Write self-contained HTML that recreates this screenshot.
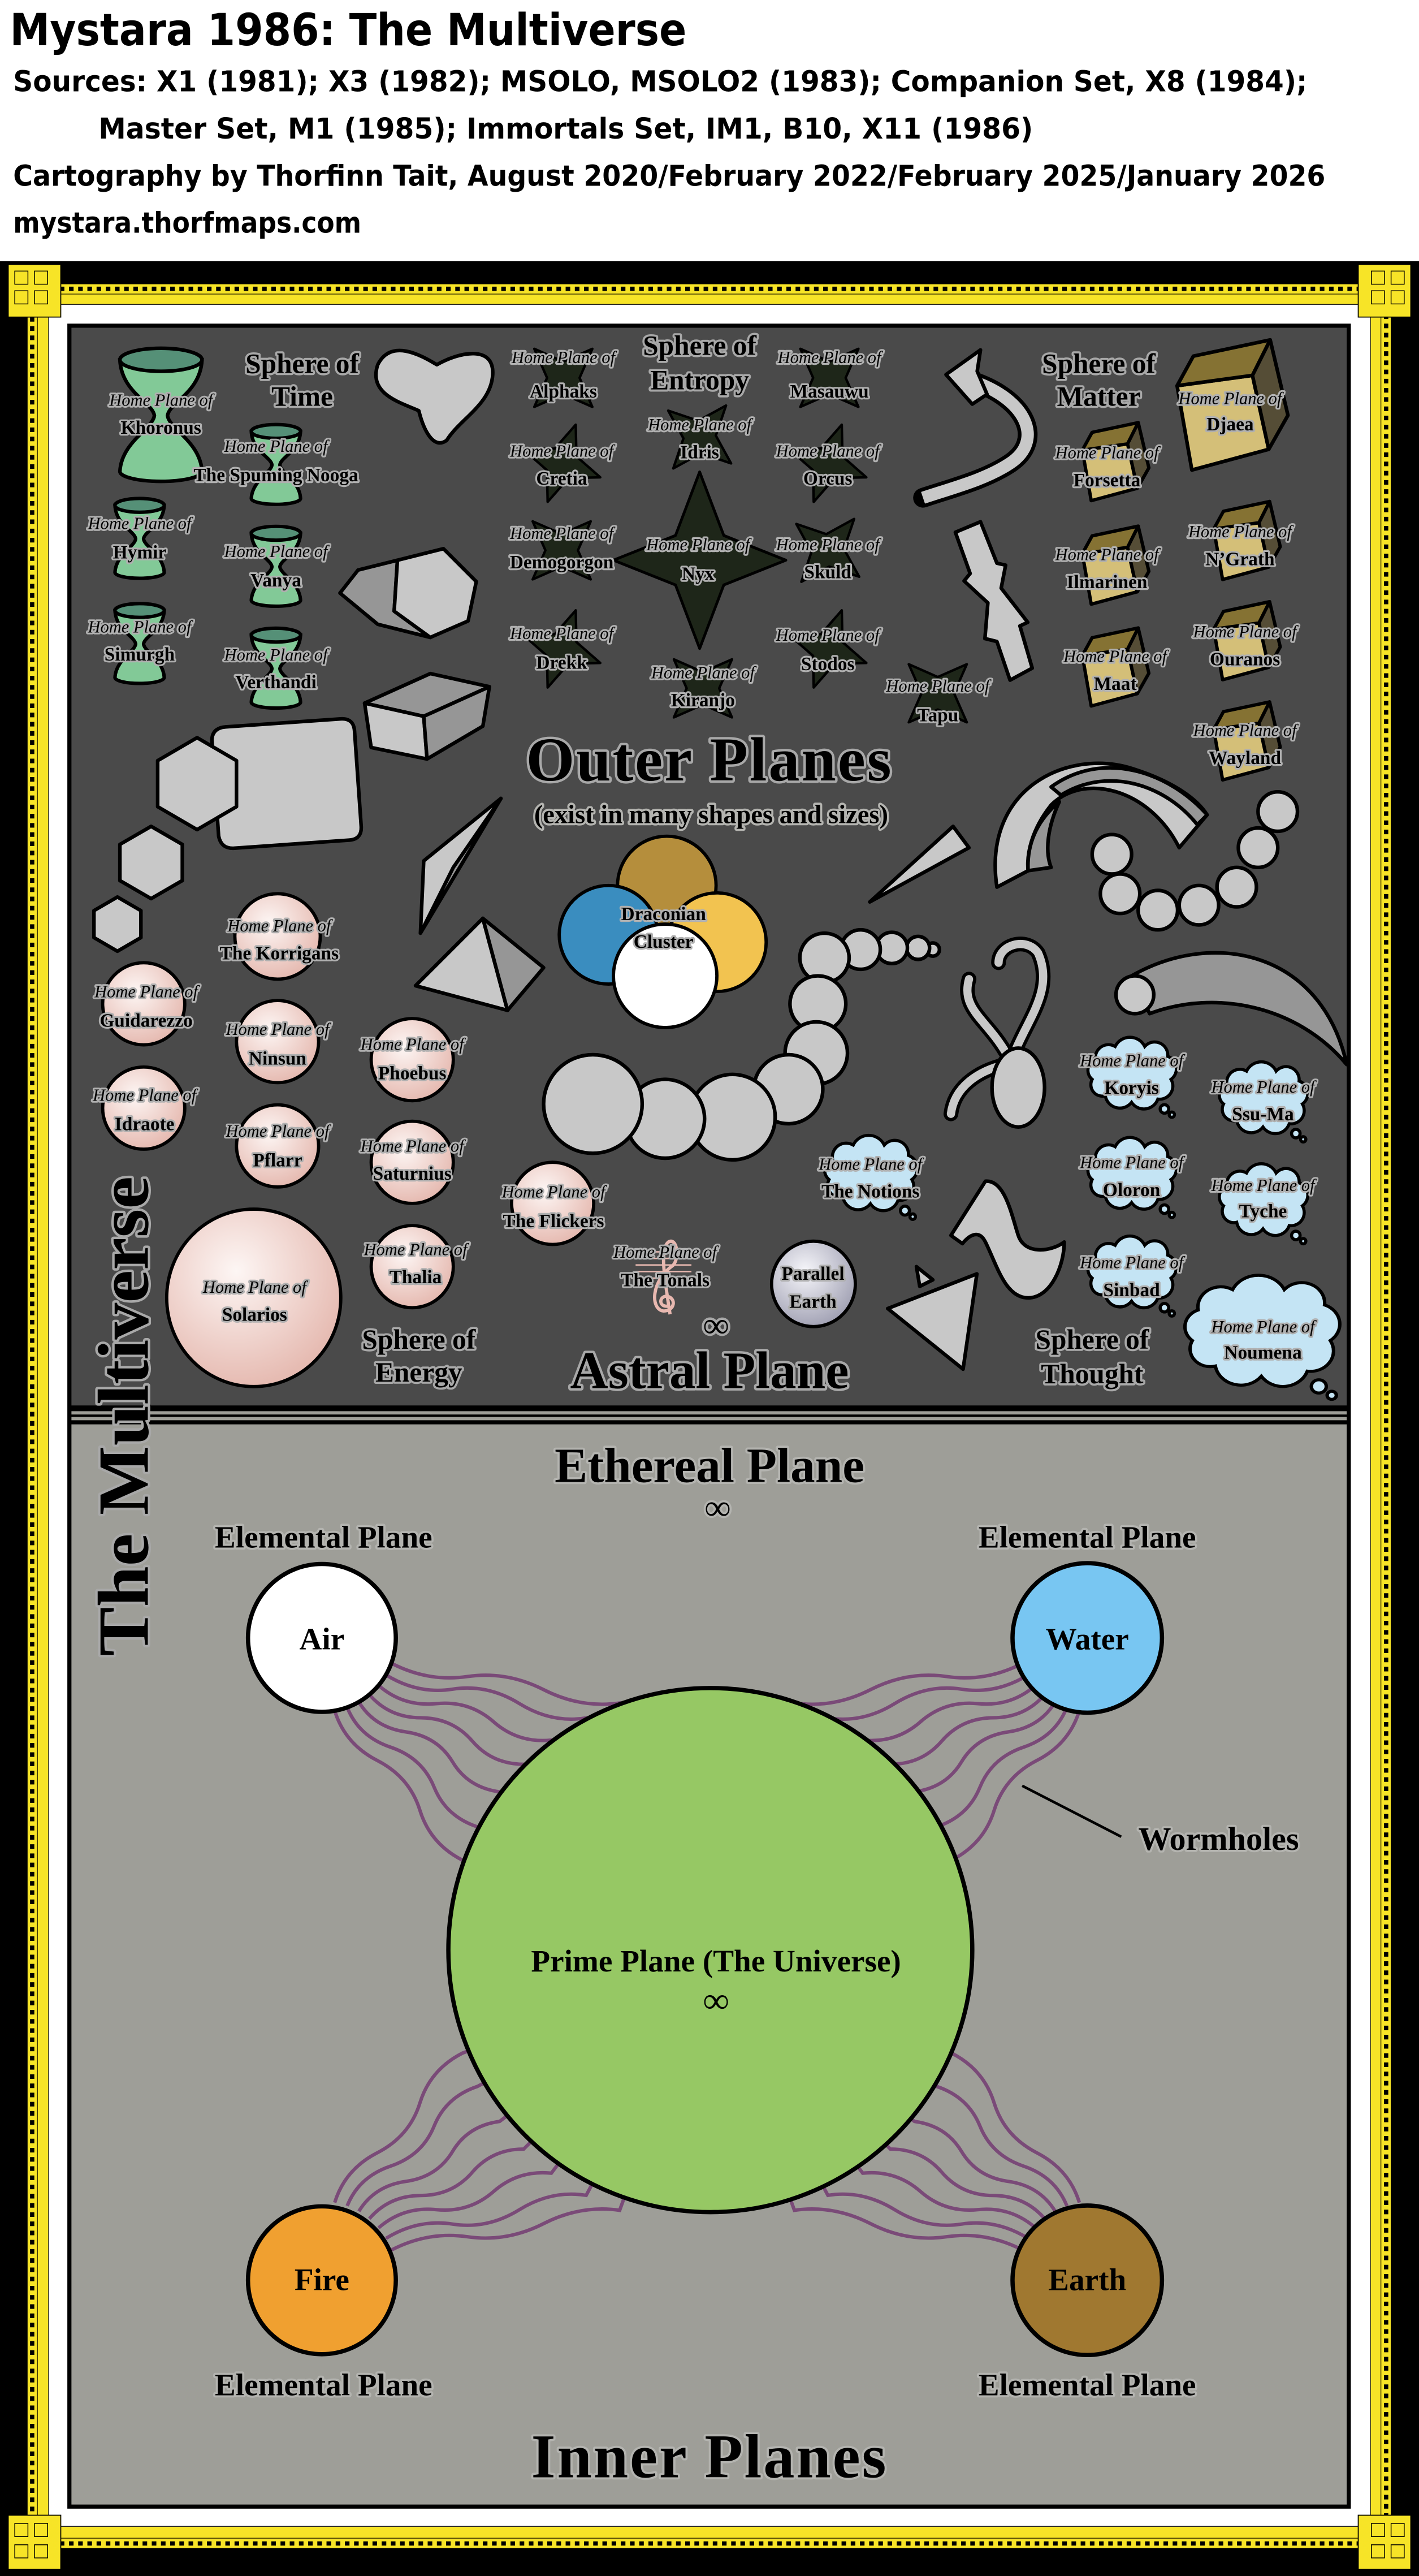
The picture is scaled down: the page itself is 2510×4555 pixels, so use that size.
<!DOCTYPE html>
<html><head><meta charset="utf-8"><style>
html,body{margin:0;padding:0;background:#fff;}
svg{display:block;}
.t{font-family:"Liberation Serif",serif;text-anchor:middle;fill:#000;paint-order:stroke;stroke-linejoin:round;}
.hp{font-style:italic;font-size:10.5px;stroke:#b0b0b0;stroke-width:2.2px;}
.nm{font-weight:bold;font-size:11.5px;stroke:#b0b0b0;stroke-width:2.2px;}
.hd{font-weight:bold;font-size:17px;stroke:#a8a8a8;stroke-width:2.6px;}
.big{font-weight:bold;stroke:#a8a8a8;stroke-width:3px;}
.gl{font-weight:bold;stroke:#b4b4b0;stroke-width:2.6px;}
.hdr{font-family:"DejaVu Sans","Liberation Sans",sans-serif;font-weight:bold;fill:#000;}
.sh{fill:#c8c8c8;stroke:#000;stroke-width:2.2;stroke-linejoin:round;}
.dk{fill:#969696;stroke:#000;stroke-width:2.2;stroke-linejoin:round;}
.wh path{fill:none;stroke:#7a4a78;stroke-width:2.1;}
</style></head><body>
<svg width="2510" height="4555" viewBox="0 0 864 1568" preserveAspectRatio="none" xmlns="http://www.w3.org/2000/svg">
<defs>
<radialGradient id="pk" cx="40%" cy="35%" r="65%"><stop offset="0" stop-color="#fdf6f4"/><stop offset="1" stop-color="#e6bbb2"/></radialGradient>
<radialGradient id="pe" cx="40%" cy="35%" r="65%"><stop offset="0" stop-color="#f6f6fa"/><stop offset="1" stop-color="#a4a4b6"/></radialGradient>
<g id="hg"><path d="M-25,-34 C-24,-14 -5,-8 -4,0 C-5,8 -24,16 -25,34 A25,6 0 0 0 25,34 C24,16 5,8 4,0 C5,-8 24,-14 25,-34 Z" fill="#82c997" stroke="#000"/><ellipse cx="0" cy="-34" rx="25" ry="7" fill="#559077" stroke="#000"/></g>
<path id="st" d="M0,-25 L7,-7 L25,0 L7,7 L0,25 L-7,7 L-25,0 L-7,-7 Z" fill="#1e2619" stroke="#000" stroke-linejoin="round"/>
<g id="cb" stroke="#000" stroke-linejoin="round">
<polygon points="-33.3,-11.7 12.6,-18 22.5,27 -24.3,39.6" fill="#d4bf78"/>
<polygon points="-33.3,-11.7 -23.4,-29.7 23.4,-39.6 12.6,-18" fill="#857233"/>
<polygon points="12.6,-18 23.4,-39.6 34.2,6.3 22.5,27" fill="#554d36"/>
</g>
<g id="cl" fill="#c4e4f4" stroke="#000"><path d="M-22,-12 a8,8 0 0 1 12,-8 a10,10 0 0 1 18,0 a8,8 0 0 1 14,6 a8,8 0 0 1 2,14 a8,8 0 0 1 -8,12 a9,9 0 0 1 -16,2 a9,9 0 0 1 -16,-4 a7,7 0 0 1 -8,-10 a7,7 0 0 1 2,-12 Z"/><circle cx="20" cy="18" r="2.6"/><circle cx="24.5" cy="21.5" r="1.6"/></g>
</defs>

<rect x="0" y="0" width="864" height="160" fill="#fff"/>
<text class="hdr" x="6" y="27.5" font-size="27" textLength="412" lengthAdjust="spacingAndGlyphs">Mystara 1986: The Multiverse</text>
<text class="hdr" x="8" y="55.6" font-size="17.5" textLength="788" lengthAdjust="spacingAndGlyphs">Sources: X1 (1981); X3 (1982); MSOLO, MSOLO2 (1983); Companion Set, X8 (1984);</text>
<text class="hdr" x="60" y="84.3" font-size="17.5" textLength="569" lengthAdjust="spacingAndGlyphs">Master Set, M1 (1985); Immortals Set, IM1, B10, X11 (1986)</text>
<text class="hdr" x="8" y="113" font-size="17.5" textLength="799" lengthAdjust="spacingAndGlyphs">Cartography by Thorfinn Tait, August 2020/February 2022/February 2025/January 2026</text>
<text class="hdr" x="8" y="141.7" font-size="17.5" textLength="212" lengthAdjust="spacingAndGlyphs">mystara.thorfmaps.com</text>

<rect x="0" y="159" width="864" height="1409" fill="#000"/>
<rect x="16.8" y="173" width="830" height="1378" fill="#f7e427"/>
<rect x="19.6" y="175.8" width="824.4" height="1372.4" fill="none" stroke="#000" stroke-width="2.6" stroke-dasharray="2.8 2.8"/>
<rect x="22.8" y="179" width="818" height="1366" fill="none" stroke="#3b3300" stroke-width="0.5"/>
<rect x="29.6" y="185.3" width="804.8" height="1352.5" fill="#fff" stroke="#222" stroke-width="0.5"/>
<g fill="#f7e427" stroke="#000" stroke-width="0.6">
<rect x="5" y="161" width="32" height="32"/><rect x="827" y="161" width="32" height="32"/>
<rect x="5" y="1531" width="32" height="33"/><rect x="827" y="1531" width="32" height="33"/>
</g>
<g fill="none" stroke="#000" stroke-width="0.5">
<rect x="9" y="165" width="8" height="8"/><rect x="21" y="165" width="8" height="8"/><rect x="9" y="177" width="8" height="8"/><rect x="21" y="177" width="8" height="8"/>
<rect x="835" y="165" width="8" height="8"/><rect x="847" y="165" width="8" height="8"/><rect x="835" y="177" width="8" height="8"/><rect x="847" y="177" width="8" height="8"/>
<rect x="9" y="1536" width="8" height="8"/><rect x="21" y="1536" width="8" height="8"/><rect x="9" y="1549" width="8" height="8"/><rect x="21" y="1549" width="8" height="8"/>
<rect x="835" y="1536" width="8" height="8"/><rect x="847" y="1536" width="8" height="8"/><rect x="835" y="1549" width="8" height="8"/><rect x="847" y="1549" width="8" height="8"/>
</g>

<rect x="41" y="197" width="781.5" height="1330" fill="#000"/>
<rect x="43.5" y="199.5" width="776.5" height="656" fill="#4a4a4a"/>
<rect x="43.5" y="859" width="776.5" height="2" fill="#9e9e98"/>
<rect x="43.5" y="862.5" width="776.5" height="2" fill="#9e9e98"/>
<rect x="43.5" y="867" width="776.5" height="657.5" fill="#9e9e98"/>

<use href="#hg" transform="translate(98,253)" stroke-width="2.2"/>
<use href="#hg" transform="translate(168,283) scale(0.6)" stroke-width="3.5"/>
<use href="#hg" transform="translate(85,328) scale(0.6)" stroke-width="3.5"/>
<use href="#hg" transform="translate(168,345) scale(0.6)" stroke-width="3.5"/>
<use href="#hg" transform="translate(85,392) scale(0.6)" stroke-width="3.5"/>
<use href="#hg" transform="translate(168,407) scale(0.6)" stroke-width="3.5"/>
<text class="t hd" x="184" y="227">Sphere of</text><text class="t hd" x="184" y="247">Time</text>
<text class="t hp" x="98" y="247">Home Plane of</text><text class="t nm" x="98" y="264" font-size="13">Khoronus</text>
<text class="t hp" x="168" y="275">Home Plane of</text><text class="t nm" x="168" y="293">The Spuming Nooga</text>
<text class="t hp" x="85" y="322">Home Plane of</text><text class="t nm" x="85" y="340">Hymir</text>
<text class="t hp" x="168" y="339">Home Plane of</text><text class="t nm" x="168" y="357">Vanya</text>
<text class="t hp" x="85" y="385">Home Plane of</text><text class="t nm" x="85" y="402">Simurgh</text>
<text class="t hp" x="168" y="402">Home Plane of</text><text class="t nm" x="168" y="419">Verthandi</text>

<path class="sh" d="M230,222 C238,206 256,216 266,222 C280,214 301,210 300,228 C299,246 280,255 272,268 C264,274 258,262 255,250 C244,245 224,240 230,222 Z"/>
<polygon class="dk" points="207,361 218,347 242,341 240,372 262,388 230,380"/>
<polygon class="sh" points="242,341 270,334 290,354 285,378 262,388 240,372"/>
<polygon class="dk" points="222,428 262,410 298,418 258,436"/>
<polygon class="sh" points="222,428 258,436 260,462 226,455"/>
<polygon class="dk" points="258,436 298,418 294,442 260,462"/>
<path class="sh" d="M131,447 Q132,440 140,440 L210,440 Q218,440 218,448 L218,506 Q218,514 210,514 L140,514 Q132,514 131,506 Z" transform="rotate(-4 174 477)"/>
<polygon class="sh" points="120,449 144,463 144,491 120,505 96,491 96,463"/>
<polygon class="sh" points="92,503 111,514 111,536 92,547 73,536 73,514"/>
<polygon class="sh" points="71.5,546 85.8,554.3 85.8,570.7 71.5,579 57.2,570.7 57.2,554.3"/>
<polygon class="sh" points="305,486 258,524 256,568"/>
<polygon class="dk" points="305,486 276,528 256,568"/>
<polygon class="sh" points="294,559 253,600 309,615"/>
<polygon class="dk" points="294,559 309,615 331,589"/>

<use href="#st" transform="translate(343,230) rotate(45)" stroke-width="1.5"/>
<use href="#st" transform="translate(505,230) rotate(45)" stroke-width="1.5"/>
<use href="#st" transform="translate(426,266) rotate(40)" stroke-width="1.5"/>
<use href="#st" transform="translate(342,282) rotate(20)" stroke-width="1.5"/>
<use href="#st" transform="translate(504,282) rotate(20)" stroke-width="1.5"/>
<use href="#st" transform="translate(342,335) rotate(45)" stroke-width="1.5"/>
<use href="#st" transform="translate(504,335) rotate(40)" stroke-width="1.5"/>
<use href="#st" transform="translate(342,395) rotate(20)" stroke-width="1.5"/>
<use href="#st" transform="translate(504,395) rotate(20)" stroke-width="1.5"/>
<use href="#st" transform="translate(428,419) rotate(45)" stroke-width="1.5"/>
<use href="#st" transform="translate(571,422) rotate(45)" stroke-width="1.5"/>
<use href="#st" transform="translate(426,341) scale(2.1,2.15)" stroke-width="0.8"/>
<text class="t hd" x="426" y="216">Sphere of</text><text class="t hd" x="426" y="237">Entropy</text>
<g>
<text class="t hp" x="343" y="221">Home Plane of</text><text class="t nm" x="343" y="242">Alphaks</text>
<text class="t hp" x="505" y="221">Home Plane of</text><text class="t nm" x="505" y="242">Masauwu</text>
<text class="t hp" x="426" y="262">Home Plane of</text><text class="t nm" x="426" y="279">Idris</text>
<text class="t hp" x="342" y="278">Home Plane of</text><text class="t nm" x="342" y="295">Cretia</text>
<text class="t hp" x="504" y="278">Home Plane of</text><text class="t nm" x="504" y="295">Orcus</text>
<text class="t hp" x="342" y="328">Home Plane of</text><text class="t nm" x="342" y="346">Demogorgon</text>
<text class="t hp" x="425" y="335">Home Plane of</text><text class="t nm" x="425" y="353" font-size="14">Nyx</text>
<text class="t hp" x="504" y="335">Home Plane of</text><text class="t nm" x="504" y="352">Skuld</text>
<text class="t hp" x="342" y="389">Home Plane of</text><text class="t nm" x="342" y="407">Drekk</text>
<text class="t hp" x="504" y="390">Home Plane of</text><text class="t nm" x="504" y="408">Stodos</text>
<text class="t hp" x="428" y="413">Home Plane of</text><text class="t nm" x="428" y="430">Kiranjo</text>
<text class="t hp" x="571" y="421">Home Plane of</text><text class="t nm" x="571" y="439">Tapu</text>
</g>

<path d="M592,232 C625,243 636,268 615,282 C600,292 580,297 562,303" fill="none" stroke="#000" stroke-width="12" stroke-linecap="round"/>
<path d="M592,232 C625,243 636,268 615,282 C600,292 580,297 562,303" fill="none" stroke="#c8c8c8" stroke-width="7.5" stroke-linecap="butt"/>
<polygon class="sh" points="576,228 597,213 595,226 601,240 592,246"/>
<path class="sh" d="M581.7,324 L597,317.6 L607,342.8 L612.3,344 L609.6,358 L625.8,378.8 L621,381 L628.5,406.7 L615,414 L607,390.5 L599.7,388.7 L601.5,367 L587,353.6 L590.7,349.1 Z"/>
<use href="#cb" transform="translate(750,246.5)" stroke-width="2.2"/>
<use href="#cb" transform="translate(679,281) scale(0.6)" stroke-width="3.4"/>
<use href="#cb" transform="translate(679,344) scale(0.6)" stroke-width="3.4"/>
<use href="#cb" transform="translate(679,406) scale(0.6)" stroke-width="3.4"/>
<use href="#cb" transform="translate(759,329) scale(0.6)" stroke-width="3.4"/>
<use href="#cb" transform="translate(759,390) scale(0.6)" stroke-width="3.4"/>
<use href="#cb" transform="translate(759,451) scale(0.6)" stroke-width="3.4"/>
<text class="t hd" x="669" y="227">Sphere of</text><text class="t hd" x="669" y="247">Matter</text>
<text class="t hp" x="749" y="246">Home Plane of</text><text class="t nm" x="749" y="262" font-size="15">Djaea</text>
<text class="t hp" x="674" y="279">Home Plane of</text><text class="t nm" x="674" y="296">Forsetta</text>
<text class="t hp" x="674" y="341">Home Plane of</text><text class="t nm" x="674" y="358">Ilmarinen</text>
<text class="t hp" x="679" y="403">Home Plane of</text><text class="t nm" x="679" y="420">Maat</text>
<text class="t hp" x="755" y="327">Home Plane of</text><text class="t nm" x="755" y="344">N’Grath</text>
<text class="t hp" x="758" y="388">Home Plane of</text><text class="t nm" x="758" y="405">Ouranos</text>
<text class="t hp" x="758" y="448">Home Plane of</text><text class="t nm" x="758" y="465">Wayland</text>

<text class="t big" x="432" y="475" font-size="38" letter-spacing="1">Outer Planes</text>
<text class="t gl" x="433" y="501" font-size="16" stroke="#a8a8a8">(exist in many shapes and sizes)</text>

<polygon class="sh" points="529.6,549 580.3,503 590,516"/>
<path class="sh" d="M607,540 C598,480 650,455 690,468 C712,475 728,485 735,496 L718,516 C700,480 660,470 640,490 C628,505 625,520 626,530 Z"/>
<path class="dk" d="M640,479 C672,456 712,470 735,496 L729,502 C710,478 675,466 646,484 Z"/>
<path class="dk" d="M626,530 C625,512 633,498 645,488 C638,503 636,518 640,528 Z"/>
<g class="sh">
<circle cx="677" cy="520" r="12"/><circle cx="682" cy="544" r="12"/><circle cx="705" cy="554" r="12"/><circle cx="730" cy="551" r="12"/><circle cx="753" cy="540" r="12"/><circle cx="766" cy="516" r="12"/><circle cx="778" cy="494" r="12"/>
</g>
<path class="dk" d="M689,594 C740,565 805,580 820,648 C790,612 740,602 700,617 Z"/>
<circle class="sh" cx="691" cy="605.5" r="11.5"/>

<g class="sh">
<circle cx="568" cy="578" r="4"/><circle cx="559" cy="577" r="7"/><circle cx="543" cy="577" r="9.5"/><circle cx="524" cy="578" r="12"/>
<circle cx="502" cy="583" r="15"/><circle cx="498" cy="611" r="17"/><circle cx="497" cy="641" r="19"/><circle cx="480" cy="663" r="21"/>
<circle cx="446" cy="680" r="26"/><circle cx="405" cy="681" r="24"/><circle cx="361" cy="672" r="30"/>
</g>

<circle cx="406" cy="539" r="30" fill="#b58e3c" stroke="#000" stroke-width="2"/>
<circle cx="370.5" cy="569" r="30" fill="#3a8dbf" stroke="#000" stroke-width="2"/>
<circle cx="436.5" cy="573.5" r="30" fill="#f2c350" stroke="#000" stroke-width="2"/>
<circle cx="405" cy="594" r="31.5" fill="#fff" stroke="#000" stroke-width="2"/>
<text class="t nm" x="404" y="560" font-size="13" stroke="#9cc8e8">Draconian</text>
<text class="t nm" x="404" y="577" font-size="13" stroke="#9cc8e8">Cluster</text>

<g fill="url(#pk)" stroke="#000" stroke-width="2">
<circle cx="169" cy="570" r="26"/><circle cx="87.5" cy="611" r="25"/><circle cx="169" cy="634" r="25"/><circle cx="251" cy="645" r="25"/>
<circle cx="87.5" cy="674.5" r="25"/><circle cx="169" cy="697.5" r="25"/><circle cx="251" cy="707.5" r="25"/><circle cx="336.5" cy="732.5" r="25"/>
<circle cx="251" cy="771" r="25"/><ellipse cx="154.5" cy="790" rx="53" ry="54"/>
</g>
<g stroke="#e8b8b0" stroke-width="0.9" fill="none">
<line x1="387" y1="762" x2="421" y2="762"/><line x1="387" y1="766" x2="421" y2="766"/><line x1="387" y1="770" x2="421" y2="770"/><line x1="387" y1="774" x2="421" y2="774"/><line x1="387" y1="778" x2="421" y2="778"/>
<path d="M407,795 C401,796 401,789 406,789 C412,790 411,798 404,798 C396,797 396,780 410,770 C414,765 412,753 407,756 C402,760 404,775 408,800" stroke-width="2"/>
</g>
<g>
<text class="t hp" x="170" y="567" stroke="#c0aaa6">Home Plane of</text><text class="t nm" x="170" y="584" stroke="#c0aaa6">The Korrigans</text>
<text class="t hp" x="89" y="607" stroke="#c0aaa6">Home Plane of</text><text class="t nm" x="89" y="625" stroke="#c0aaa6">Guidarezzo</text>
<text class="t hp" x="169" y="630" stroke="#c0aaa6">Home Plane of</text><text class="t nm" x="169" y="648" stroke="#c0aaa6">Ninsun</text>
<text class="t hp" x="251" y="639" stroke="#c0aaa6">Home Plane of</text><text class="t nm" x="251" y="657" stroke="#c0aaa6">Phoebus</text>
<text class="t hp" x="88" y="670" stroke="#c0aaa6">Home Plane of</text><text class="t nm" x="88" y="688" stroke="#c0aaa6">Idraote</text>
<text class="t hp" x="169" y="692" stroke="#c0aaa6">Home Plane of</text><text class="t nm" x="169" y="710" stroke="#c0aaa6">Pflarr</text>
<text class="t hp" x="251" y="701" stroke="#c0aaa6">Home Plane of</text><text class="t nm" x="251" y="718" stroke="#c0aaa6">Saturnius</text>
<text class="t hp" x="337" y="729" stroke="#c0aaa6">Home Plane of</text><text class="t nm" x="337" y="747" stroke="#c0aaa6">The Flickers</text>
<text class="t hp" x="253" y="764" stroke="#c0aaa6">Home Plane of</text><text class="t nm" x="253" y="781" stroke="#c0aaa6">Thalia</text>
<text class="t hp" x="155" y="787" stroke="#c0aaa6">Home Plane of</text><text class="t nm" x="155" y="804" font-size="15" stroke="#c0aaa6">Solarios</text>
<text class="t hp" x="405" y="765.5">Home Plane of</text><text class="t nm" x="405" y="783">The Tonals</text>
</g>
<text class="t hd" x="255" y="821">Sphere of</text><text class="t hd" x="255" y="841">Energy</text>

<path d="M612,640 C600,620 585,614 590,596" fill="none" stroke="#000" stroke-width="9" stroke-linecap="round"/>
<path d="M612,640 C600,620 585,614 590,596" fill="none" stroke="#c8c8c8" stroke-width="5" stroke-linecap="round"/>
<path d="M618,640 C626,620 642,602 632,580 C625,570 608,575 608,586" fill="none" stroke="#000" stroke-width="9" stroke-linecap="round"/>
<path d="M618,640 C626,620 642,602 632,580 C625,570 608,575 608,586" fill="none" stroke="#c8c8c8" stroke-width="5" stroke-linecap="round"/>
<path d="M612,648 C595,652 581,662 579,678" fill="none" stroke="#000" stroke-width="9" stroke-linecap="round"/>
<path d="M612,648 C595,652 581,662 579,678" fill="none" stroke="#c8c8c8" stroke-width="5" stroke-linecap="round"/>
<ellipse class="sh" cx="620" cy="662" rx="16" ry="24"/>
<path class="sh" d="M579,752 L600,719 C612,718 616,740 620,752 C624,764 640,762 648,756 C648,770 640,790 626,790 C612,790 607,770 600,756 C596,748 590,752 586,757 Z"/>
<polygon class="sh" points="558,771 568,779 560,783"/>
<polygon class="sh" points="540.5,796.5 594.8,775.4 586.4,833.4"/>
<ellipse cx="495.3" cy="781.5" rx="25.5" ry="26" fill="url(#pe)" stroke="#000" stroke-width="2"/>
<text class="t nm" x="495" y="779" font-size="11.5">Parallel</text><text class="t nm" x="495" y="796" font-size="11.5">Earth</text>
<use href="#cl" transform="translate(530,718) scale(1.05)" stroke-width="1.8"/>
<use href="#cl" transform="translate(689,657)" stroke-width="1.9"/>
<use href="#cl" transform="translate(769,672)" stroke-width="1.9"/>
<use href="#cl" transform="translate(689,718)" stroke-width="1.9"/>
<use href="#cl" transform="translate(769,734)" stroke-width="1.9"/>
<use href="#cl" transform="translate(689,778)" stroke-width="1.9"/>
<use href="#cl" transform="translate(768,816) scale(1.75,1.55)" stroke-width="1.2"/>
<g>
<text class="t hp" x="530" y="712" stroke="#a8bcc8">Home Plane of</text><text class="t nm" x="530" y="729" stroke="#a8bcc8">The Notions</text>
<text class="t hp" x="689" y="649" stroke="#a8bcc8">Home Plane of</text><text class="t nm" x="689" y="666" stroke="#a8bcc8">Koryis</text>
<text class="t hp" x="769" y="665" stroke="#a8bcc8">Home Plane of</text><text class="t nm" x="769" y="682" stroke="#a8bcc8">Ssu-Ma</text>
<text class="t hp" x="689" y="711" stroke="#a8bcc8">Home Plane of</text><text class="t nm" x="689" y="728" stroke="#a8bcc8">Oloron</text>
<text class="t hp" x="769" y="725" stroke="#a8bcc8">Home Plane of</text><text class="t nm" x="769" y="741" stroke="#a8bcc8">Tyche</text>
<text class="t hp" x="689" y="772" stroke="#a8bcc8">Home Plane of</text><text class="t nm" x="689" y="789" stroke="#a8bcc8">Sinbad</text>
<text class="t hp" x="769" y="811" stroke="#a8bcc8">Home Plane of</text><text class="t nm" x="769" y="827" font-size="15" stroke="#a8bcc8">Noumena</text>
</g>
<text class="t hd" x="665" y="821">Sphere of</text><text class="t hd" x="665" y="842">Thought</text>

<text class="t big" x="432" y="845" font-size="32">Astral Plane</text>
<text class="t big" x="436" y="814" font-size="22" stroke-width="2">∞</text>
<text class="t big" x="0" y="0" font-size="44" transform="translate(90,862) rotate(-90)" textLength="292" lengthAdjust="spacingAndGlyphs" stroke="#a8a8a8">The Multiverse</text>

<text class="t gl" x="432" y="902" font-size="30">Ethereal Plane</text>
<text class="t gl" x="437" y="925" font-size="22" stroke-width="2">∞</text>
<text class="t gl" x="197" y="942" font-size="19">Elemental Plane</text>
<text class="t gl" x="662" y="942" font-size="19">Elemental Plane</text>
<text class="t gl" x="197" y="1458" font-size="19">Elemental Plane</text>
<text class="t gl" x="662" y="1458" font-size="19">Elemental Plane</text>

<g class="wh" id="wb">
<path d="M238.3,1012.4 Q260.8,1024 284.6,1020.5 T331,1028.5 T377.3,1036.6 L382.1,1049.8"/>
<path d="M235,1019.5 Q254.5,1031.5 275.6,1028.2 T316.3,1037 T356.9,1045.7 L363.5,1058.1"/>
<path d="M230.5,1025.9 Q245.5,1039 265.6,1037 T300.6,1048.1 T335.7,1059.2 L344.1,1070.4"/>
<path d="M224.9,1031.5 Q237,1045.5 256.2,1045.6 T287.6,1059.8 T318.9,1073.9 L328.8,1083.8"/>
<path d="M218.5,1036 Q228,1051.5 247.1,1054.2 T275.6,1072.5 T304.2,1090.7 L315.4,1099.1"/>
<path d="M211.4,1039.3 Q218.5,1057 237.8,1063.5 T264.3,1087.8 T290.7,1112 L303.1,1118.6"/>
<path d="M203.8,1041.3 Q210,1061.5 229.7,1071.6 T255.7,1102 T281.6,1132.3 L294.8,1137.1"/>
</g>
<use href="#wb" transform="translate(861,0) scale(-1,1)"/>
<use href="#wb" transform="translate(0,2382) scale(1,-1)"/>
<use href="#wb" transform="translate(861,2382) scale(-1,-1)"/>

<circle cx="432.5" cy="1187" r="159.5" fill="#96c864" stroke="#000" stroke-width="2.6"/>
<circle cx="196" cy="997" r="45" fill="#fff" stroke="#000" stroke-width="2.6"/>
<circle cx="662" cy="997" r="45.5" fill="#78c6f2" stroke="#000" stroke-width="2.6"/>
<circle cx="196" cy="1388" r="45" fill="#f0a030" stroke="#000" stroke-width="2.6"/>
<circle cx="662" cy="1388" r="45.5" fill="#a07830" stroke="#000" stroke-width="2.6"/>
<text class="t" x="196" y="1004" font-size="19" font-weight="bold">Air</text>
<text class="t" x="662" y="1004" font-size="19" font-weight="bold">Water</text>
<text class="t" x="196" y="1394" font-size="19" font-weight="bold">Fire</text>
<text class="t" x="662" y="1394" font-size="19" font-weight="bold">Earth</text>
<text class="t" x="436" y="1200" font-size="19" font-weight="bold">Prime Plane (The Universe)</text>
<text class="t" x="436" y="1225" font-size="22" font-weight="bold">∞</text>
<line x1="622.4" y1="1087" x2="682.7" y2="1118" stroke="#000" stroke-width="1.6"/>
<text class="t gl" x="742" y="1126" font-size="20">Wormholes</text>
<text class="t gl" x="432" y="1508" font-size="38" letter-spacing="1">Inner Planes</text>
</svg>
</body></html>
